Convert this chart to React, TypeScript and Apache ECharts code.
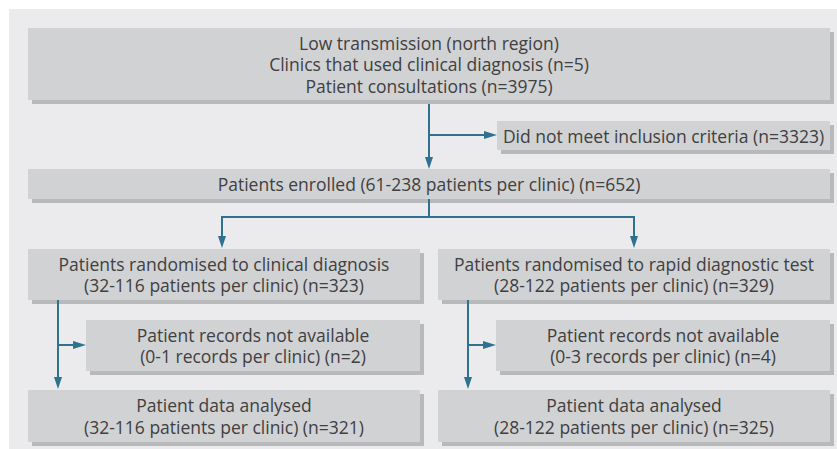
import React, { useEffect, useRef } from "react";
import * as echarts from "echarts";

// Flow counts
const consultations = 3975;
const clinics = 5;
const excluded = 3323;
const enrolled = 652;
const randomised = [323, 329];
const perClinicRandomised = ["32-116", "28-122"];
const notAvailable = [2, 4];
const perClinicNotAvailable = ["0-1", "0-3"];
const analysed = [321, 325];
const perClinicAnalysed = ["32-116", "28-122"];
const armNames = ["clinical diagnosis", "rapid diagnostic test"];

const nodeTexts: string[][] = [
  ["Low transmission (north region)", `Clinics that used clinical diagnosis (n=${clinics})`, `Patient consultations (n=${consultations})`],
  [`Did not meet inclusion criteria (n=${excluded})`],
  [`Patients enrolled (61-238 patients per clinic) (n=${enrolled})`],
  [`Patients randomised to ${armNames[0]}`, `(${perClinicRandomised[0]} patients per clinic) (n=${randomised[0]})`],
  [`Patients randomised to ${armNames[1]}`, `(${perClinicRandomised[1]} patients per clinic) (n=${randomised[1]})`],
  ["Patient records not available", `(${perClinicNotAvailable[0]} records per clinic) (n=${notAvailable[0]})`],
  ["Patient records not available", `(${perClinicNotAvailable[1]} records per clinic) (n=${notAvailable[1]})`],
  ["Patient data analysed", `(${perClinicAnalysed[0]} patients per clinic) (n=${analysed[0]})`],
  ["Patient data analysed", `(${perClinicAnalysed[1]} patients per clinic) (n=${analysed[1]})`],
];

// Layout (pixel boxes: x, y, w, h)
const boxLayout = [
  [28, 28, 802, 72],
  [497, 121, 333, 29],
  [28, 169, 802, 30],
  [28, 249, 392, 51],
  [438, 249, 392, 51],
  [86, 320, 334, 51],
  [496, 320, 334, 51],
  [28, 390, 392, 52],
  [438, 390, 392, 52],
];

const LINE = "#2f7290";
const BOX = "#d1d2d4";
const SHADOW = "#b8b9bb";
const TEXT = "#404040";
const FONT = '17.5px "Open Sans", sans-serif';
const LINE_H = 21.5;

function arrowDown(x: number, y: number) {
  return {
    type: "polygon",
    shape: { points: [[x - 4, y - 12], [x + 4, y - 12], [x, y]] },
    style: { fill: LINE },
  };
}
function arrowRight(x: number, y: number) {
  return {
    type: "polygon",
    shape: { points: [[x - 13, y - 4], [x - 13, y + 4], [x, y]] },
    style: { fill: LINE },
  };
}
function line(points: number[][]) {
  return {
    type: "polyline",
    shape: { points },
    style: { stroke: LINE, lineWidth: 2, fill: "none" },
  };
}

export default function App() {
  const ref = useRef<HTMLDivElement>(null);
  useEffect(() => {
    if (!ref.current) return;
    const chart = echarts.init(ref.current, null, { renderer: "svg" });
    const elements: any[] = [];
    elements.push({
      type: "rect",
      shape: { x: 9, y: 9, width: 828, height: 440 },
      style: { fill: "#ebebed" },
    });
    boxLayout.forEach(([x, y, w, h], i) => {
      elements.push({
        type: "rect",
        shape: { x: x + 4, y: y + 4, width: w, height: h },
        style: { fill: SHADOW },
      });
      elements.push({
        type: "rect",
        shape: { x, y, width: w, height: h },
        style: { fill: BOX },
      });
      const lines = nodeTexts[i];
      const cy = y + h / 2;
      lines.forEach((t, j) => {
        elements.push({
          type: "text",
          x: x + w / 2,
          y: cy + (j - (lines.length - 1) / 2) * LINE_H,
          style: {
            text: t,
            font: FONT,
            fill: TEXT,
            align: "center",
            verticalAlign: "middle",
          },
        });
      });
    });
    // connectors
    elements.push(line([[429, 104], [429, 160]]));
    elements.push(arrowDown(429, 169));
    elements.push(line([[429, 135], [488, 135]]));
    elements.push(arrowRight(497, 135));
    elements.push(line([[429, 199], [429, 217], [222, 217], [222, 240]]));
    elements.push(line([[429, 217], [634, 217], [634, 240]]));
    elements.push(arrowDown(222, 248));
    elements.push(arrowDown(634, 248));
    [[58, 86], [468, 496]].forEach(([vx, bx]) => {
      elements.push(line([[vx, 300], [vx, 380]]));
      elements.push(arrowDown(vx, 389));
      elements.push(line([[vx, 345], [bx - 8, 345]]));
      elements.push(arrowRight(bx, 345));
    });
    chart.setOption({
      animation: false,
      graphic: { elements },
    });
    return () => chart.dispose();
  }, []);
  return (
    <div
      ref={ref}
      style={{ position: "fixed", left: 0, top: 0, width: 837, height: 449, background: "#fff" }}
    />
  );
}
